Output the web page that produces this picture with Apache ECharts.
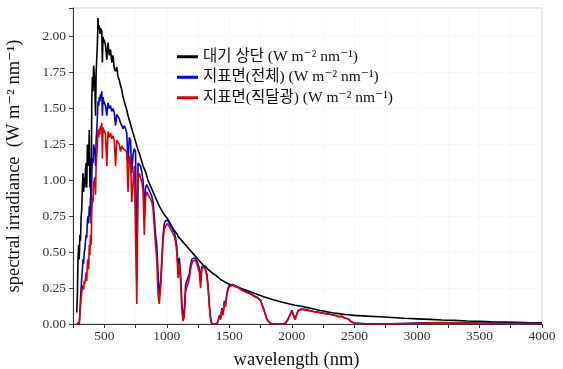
<!DOCTYPE html>
<html><head><meta charset="utf-8">
<script src="https://cdn.jsdelivr.net/npm/echarts@6/dist/echarts.min.js"></script>
<style>html,body{margin:0;padding:0;background:#fff;}#c{width:563px;height:369px;}</style>
</head><body><div id="c"></div>
<script>
const wavelength = [
280,285,290,295,300,305,310,315,320,325,330,335,340,345,350,355,360,365,370,375,380,385,390,395,400,405,410,415,420,425,430,435,440,445,450,455,460,465,470,475,480,485,490,495,500,
510,520,530,540,550,560,570,580,590,600,610,620,630,640,650,660,670,680,690,700,710,720,730,740,750,760,770,780,790,800,810,820,830,840,850,860,870,880,890,900,910,920,930,940,950,960,970,980,990,1000,
1010,1020,1030,1040,1050,1060,1070,1080,1090,1100,1110,1120,1130,1140,1150,1160,1170,1180,1190,1200,1210,1220,1230,1240,1250,1260,1270,1280,1290,1300,1310,1320,1330,1340,1350,1360,1370,1380,1390,1400,1410,1420,1430,1440,1450,1460,1470,1480,1490,1500,
1525,1550,1575,1600,1625,1650,1675,1700,1725,1750,1775,1800,1825,1850,1875,1900,1925,1950,1975,2000,2025,2050,2075,2100,2125,2150,2175,2200,2225,2250,2275,2300,2325,2350,2375,2400,2425,2450,2475,2500,
2600,2700,2800,2900,3000,3100,3200,3300,3400,3500,3600,3700,3800,3900,4000
];
// top of atmosphere (black)
const topOfAtmosphere = [
0.08,0.20,0.45,0.55,0.45,0.62,0.58,0.75,0.80,0.95,1.05,0.92,1.02,0.95,1.08,1.12,0.95,1.25,1.20,1.10,1.35,0.95,1.15,0.70,1.55,1.72,1.62,1.80,1.74,1.65,1.45,1.75,1.85,1.95,2.13,2.05,2.08,2.02,2.06,2.07,2.04,1.82,2.00,1.96,1.98,
1.94,1.84,1.96,1.87,1.91,1.82,1.87,1.78,1.76,1.79,1.72,1.70,1.66,1.63,1.58,1.55,1.52,1.49,1.45,1.42,1.39,1.36,1.33,1.30,1.27,1.24,1.21,1.19,1.16,1.13,1.10,1.08,1.06,1.03,1.00,0.98,0.96,0.94,0.92,0.90,0.88,0.86,0.84,0.82,0.81,0.79,0.78,0.76,0.75,0.74,
0.73,0.71,0.70,0.68,0.67,0.65,0.64,0.63,0.61,0.60,0.59,0.58,0.57,0.56,0.55,0.54,0.53,0.52,0.51,0.50,0.49,0.48,0.47,0.46,0.45,0.44,0.43,0.42,0.41,0.405,0.40,0.39,0.38,0.37,0.365,0.36,0.35,0.345,0.34,0.33,0.325,0.32,0.31,0.305,0.30,0.295,0.29,0.285,0.28,0.275,
0.27,0.262,0.254,0.246,0.238,0.23,0.222,0.214,0.206,0.198,0.19,0.183,0.176,0.169,0.163,0.157,0.151,0.146,0.141,0.136,0.131,0.127,0.123,0.119,0.114,0.109,0.104,0.099,0.094,0.090,0.086,0.082,0.078,0.075,0.072,0.069,0.066,0.064,0.062,0.060,
0.055,0.050,0.045,0.040,0.036,0.032,0.028,0.025,0.021,0.018,0.015,0.013,0.011,0.009,0.008
];
// surface, global (blue)
const surfaceGlobal = [
0,0,0,0,0.01,0.08,0.18,0.25,0.32,0.38,0.45,0.42,0.50,0.52,0.58,0.62,0.60,0.72,0.75,0.70,0.82,0.75,0.88,0.80,1.05,1.15,1.12,1.25,1.22,1.20,1.10,1.28,1.35,1.45,1.55,1.52,1.58,1.55,1.60,1.57,1.62,1.45,1.58,1.55,1.56,
1.52,1.45,1.54,1.50,1.52,1.48,1.50,1.47,1.38,1.46,1.45,1.43,1.40,1.41,1.36,1.38,1.36,1.33,1.12,1.30,1.28,1.05,1.18,1.22,1.20,0.30,1.12,1.13,1.10,1.06,1.00,0.80,0.95,0.97,0.95,0.93,0.91,0.89,0.85,0.75,0.62,0.55,0.35,0.20,0.28,0.45,0.62,0.70,0.72,0.73,
0.72,0.70,0.69,0.67,0.66,0.64,0.60,0.54,0.38,0.46,0.35,0.15,0.05,0.10,0.27,0.30,0.31,0.35,0.41,0.45,0.46,0.46,0.46,0.44,0.45,0.39,0.30,0.40,0.41,0.40,0.39,0.35,0.27,0.14,0.04,0,0,0,0,0,0.02,0.06,0.04,0.11,0.07,0.16,0.14,0.21,0.25,0.27,
0.275,0.265,0.255,0.24,0.23,0.22,0.21,0.195,0.185,0.165,0.105,0.035,0.006,0,0,0,0,0.006,0.045,0.095,0.035,0.095,0.105,0.102,0.097,0.092,0.087,0.084,0.08,0.077,0.072,0.07,0.064,0.06,0.052,0.054,0.042,0.037,0.016,0.006,
0.001,0.001,0.002,0.004,0.006,0.008,0.010,0.008,0.007,0.007,0.006,0.005,0.005,0.004,0.004
];
// surface, direct beam (red)
const surfaceDirect = [
0,0,0,0,0,0.05,0.12,0.18,0.22,0.25,0.27,0.24,0.30,0.28,0.32,0.36,0.30,0.42,0.45,0.38,0.55,0.48,0.62,0.55,0.78,0.88,0.85,0.98,1.00,1.02,0.90,1.10,1.18,1.25,1.35,1.30,1.36,1.32,1.38,1.35,1.40,1.15,1.37,1.33,1.35,
1.32,1.10,1.34,1.30,1.33,1.29,1.31,1.28,1.10,1.28,1.27,1.25,1.20,1.24,1.22,1.23,1.21,1.19,0.92,1.17,1.14,0.85,0.98,1.10,1.09,0.14,1.02,1.05,1.02,0.99,0.93,0.62,0.88,0.92,0.90,0.89,0.87,0.85,0.80,0.68,0.55,0.45,0.20,0.14,0.25,0.40,0.58,0.66,0.68,0.70,
0.69,0.68,0.66,0.65,0.63,0.61,0.57,0.50,0.32,0.42,0.30,0.10,0.02,0.05,0.22,0.26,0.28,0.32,0.38,0.42,0.44,0.43,0.44,0.42,0.43,0.36,0.25,0.38,0.40,0.39,0.38,0.33,0.25,0.12,0.03,0,0,0,0,0,0.02,0.05,0.03,0.10,0.06,0.15,0.12,0.20,0.24,0.26,
0.27,0.26,0.25,0.235,0.225,0.215,0.205,0.19,0.18,0.16,0.10,0.03,0.005,0,0,0,0,0.005,0.04,0.09,0.03,0.09,0.10,0.10,0.095,0.09,0.085,0.082,0.078,0.075,0.07,0.068,0.062,0.058,0.05,0.052,0.04,0.035,0.015,0.005,
0,0,0.001,0.003,0.005,0.007,0.009,0.007,0.006,0.006,0.005,0.004,0.004,0.003,0.003
];
const seriesNames = ['대기 상단 (W m⁻² nm⁻¹)', '지표면(전체) (W m⁻² nm⁻¹)', '지표면(직달광) (W m⁻² nm⁻¹)'];
const seriesColors = ['#000000', '#0000cc', '#dd0000'];
const xTitle = 'wavelength (nm)';
const yTitle = 'spectral irradiance  (W m⁻² nm⁻¹)';

const serif = "'Liberation Serif','DejaVu Serif','Noto Sans CJK KR',serif";
const pairs = vals => wavelength.map((w, i) => [w, vals[i]]);
const allVals = [topOfAtmosphere, surfaceGlobal, surfaceDirect];

const chart = echarts.init(document.getElementById('c'), null, {renderer: 'canvas'});
chart.setOption({
  animation: false,
  backgroundColor: '#fff',
  grid: {left: 73, right: 21, top: 8, bottom: 45, containLabel: false, outerBoundsMode: 'none',
         show: true, borderColor: '#cccccc', borderWidth: 1},
  legend: {
    left: 172, top: 44, orient: 'vertical', itemGap: 5, itemWidth: 21, itemHeight: 3,
    icon: 'rect',
    textStyle: {fontFamily: serif, fontSize: 15.5, color: '#111'},
    data: seriesNames
  },
  xAxis: {
    type: 'value', min: 250, max: 4000, interval: 250,
    axisLine: {show: true, lineStyle: {color: '#333', width: 1}},
    axisTick: {show: true, length: 4, lineStyle: {color: '#333'}},
    axisLabel: {
      fontFamily: serif, fontSize: 13.5, color: '#333', margin: 6,
      formatter: v => (v % 500 === 0 ? String(v) : '')
    },
    splitLine: {show: true, lineStyle: {color: '#f0f0f0', type: 'dotted'}},
    name: xTitle, nameLocation: 'middle', nameGap: 27,
    nameTextStyle: {fontFamily: serif, fontSize: 18.5, color: '#111', padding: [0, 22, 0, 0]}
  },
  yAxis: {
    type: 'value', min: 0, max: 2.2, interval: 0.25,
    axisLine: {show: true, lineStyle: {color: '#333', width: 1}},
    axisTick: {show: true, length: 4, lineStyle: {color: '#333'}},
    axisLabel: {
      fontFamily: serif, fontSize: 13.5, color: '#333', margin: 7,
      formatter: v => (Math.abs(v * 4 - Math.round(v * 4)) < 1e-6 ? v.toFixed(2) : '')
    },
    splitLine: {show: true, lineStyle: {color: '#f0f0f0', type: 'dotted'}},
    name: yTitle, nameLocation: 'middle', nameGap: 50,
    nameTextStyle: {fontFamily: serif, fontSize: 18.5, color: '#111'}
  },
  series: allVals.map((vals, i) => ({
    name: seriesNames[i], type: 'line', data: pairs(vals),
    showSymbol: false, symbol: 'none', z: 2 + i,
    lineStyle: {color: seriesColors[i], width: 1.6},
    itemStyle: {color: seriesColors[i]}
  }))
});
</script></body></html>
